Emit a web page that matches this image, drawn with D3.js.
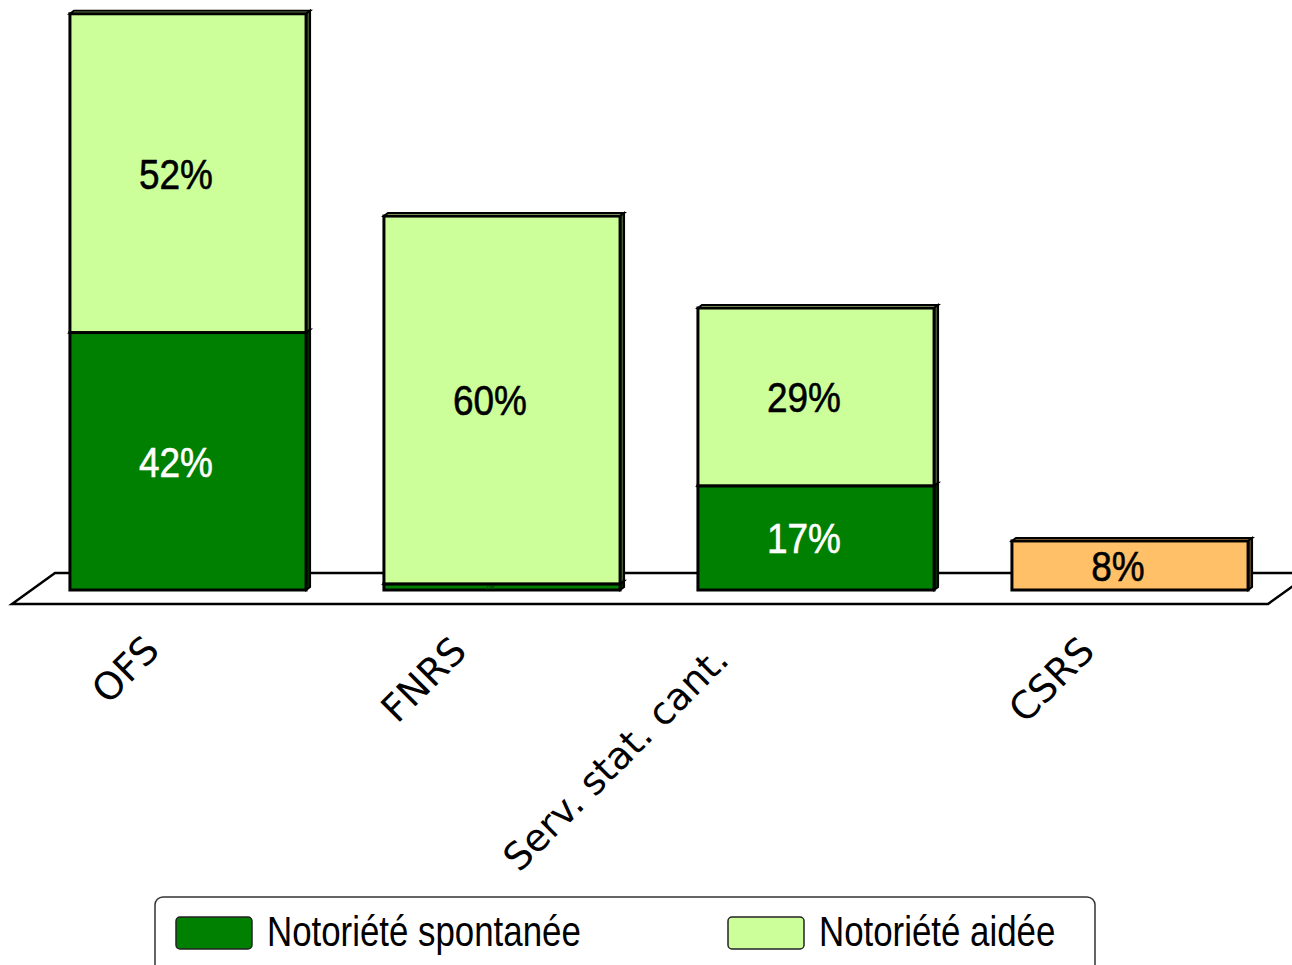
<!DOCTYPE html>
<html>
<head>
<meta charset="utf-8">
<script src="https://cdn.jsdelivr.net/npm/d3@7"></script>
<style>
  body { margin: 0; background: #fff; }
  svg { display: block; }
</style>
</head>
<body>
<div id="chart"></div>
<script>
// data (percent)
const categories = ["OFS", "FNRS", "Serv. stat. cant.", "CSRS"];
const spontanee = [42, 1, 17, 0];
const aidee = [52, 60, 29, 8];
const seriesNames = ["Notoriété spontanée", "Notoriété aidée"];

const width = 1292, height = 965;
const colors = { "Notoriété spontanée": "#008000", "Notoriété aidée": "#CCFF99" };
const highlight = { category: "CSRS", color: "#FFC068" };
// no narrow font installed, so squeeze Liberation Sans horizontally
const narrow = "'Liberation Sans', Arial, sans-serif";
const squeeze = 0.83;
const depthX = 4, depthY = 3;

const svg = d3.select("#chart").append("svg")
    .attr("width", width)
    .attr("height", height);

// build table for d3.stack
const table = categories.map((c, i) => ({
    cat: c,
    [seriesNames[0]]: spontanee[i],
    [seriesNames[1]]: aidee[i]
}));
const stacked = d3.stack().keys(seriesNames)(table);

const x = d3.scaleBand()
    .domain(categories)
    .range([31, 1287])
    .paddingInner(0.248)
    .paddingOuter(0.124);

const y = d3.scaleLinear()
    .domain([0, 100])
    .range([590, -23]);

// floor
const fl = x.range()[0], fr = x.range()[1], y0 = y(0);
svg.append("path")
    .attr("d", `M${fl - 19},${y0 + 14} L${fl + 24},${y0 - 17} L${fr + 24},${y0 - 17} L${fr - 19},${y0 + 14} Z`)
    .attr("fill", "#fff")
    .attr("stroke", "#000")
    .attr("stroke-width", 2.5);

// bars, 3d-ish box for each segment
const bw = x.bandwidth();
stacked.forEach(layer => {
    const g = svg.append("g");
    layer.forEach(d => {
        const v = d[1] - d[0];
        if (v <= 0) return;
        const cat = d.data.cat;
        const fill = cat === highlight.category ? highlight.color : colors[layer.key];
        const x0 = x(cat), x1 = x0 + bw;
        const yt = y(d[1]), yb = y(d[0]);

        // top face
        g.append("path")
            .attr("d", `M${x0},${yt} L${x0 + depthX},${yt - depthY} L${x1 + depthX},${yt - depthY} L${x1},${yt} Z`)
            .attr("fill", fill)
            .attr("stroke", "#000")
            .attr("stroke-width", 2);
        // right face
        g.append("path")
            .attr("d", `M${x1},${yt} L${x1 + depthX},${yt - depthY} L${x1 + depthX},${yb - depthY} L${x1},${yb} Z`)
            .attr("fill", d3.color(fill).darker(3))
            .attr("stroke", "#000")
            .attr("stroke-width", 2);
        // front face
        g.append("rect")
            .attr("x", x0)
            .attr("y", yt)
            .attr("width", bw)
            .attr("height", yb - yt)
            .attr("fill", fill)
            .attr("stroke", "#000")
            .attr("stroke-width", 3);

        // value label
        const h = yb - yt;
        const fs = Math.min(43, h * 1.1);
        const col = layer.key === seriesNames[0] ? (h < 20 ? "#005000" : "#fff") : "#000";
        g.append("text")
            .attr("transform", `translate(${x0 + bw / 2 - 12},${(yt + yb) / 2}) scale(0.86,1)`)
            .attr("dy", "0.36em")
            .attr("text-anchor", "middle")
            .attr("font-family", narrow)
            .attr("font-size", fs)
            .attr("fill", col)
            .attr("stroke", col)
            .attr("stroke-width", 0.6)
            .text(v + "%");
    });
});

// category labels, rotated
const labels = svg.append("g");
categories.forEach(c => {
    const t = labels.append("text")
        .attr("font-family", "'DejaVu Sans', Verdana, sans-serif")
        .attr("font-size", 38)
        .attr("text-anchor", "end")
        .text(c);
    const w = t.node().getComputedTextLength() * Math.SQRT1_2;
    const xc = x(c) + bw / 2;
    const ex = xc - 7 - 0.37 * w;
    const ey = 649 + 0.06 * w;
    t.attr("transform", `translate(${ex},${ey}) rotate(-45)`);
});

// legend
const legend = svg.append("g");
legend.append("rect")
    .attr("x", 155).attr("y", 897)
    .attr("width", 940).attr("height", 90)
    .attr("rx", 8)
    .attr("fill", "#fff")
    .attr("stroke", "#333")
    .attr("stroke-width", 1.5);

const legX = [176, 728];
seriesNames.forEach((s, i) => {
    legend.append("rect")
        .attr("x", legX[i]).attr("y", 917)
        .attr("width", 76).attr("height", 32)
        .attr("rx", 4)
        .attr("fill", colors[s])
        .attr("stroke", "#222")
        .attr("stroke-width", 1.5);
    legend.append("text")
        .attr("transform", `translate(${legX[i] + 91},946) scale(${squeeze},1)`)
        .attr("font-family", narrow)
        .attr("font-size", 42)
        .attr("fill", "#000")
        .text(s);
});
</script>
</body>
</html>
